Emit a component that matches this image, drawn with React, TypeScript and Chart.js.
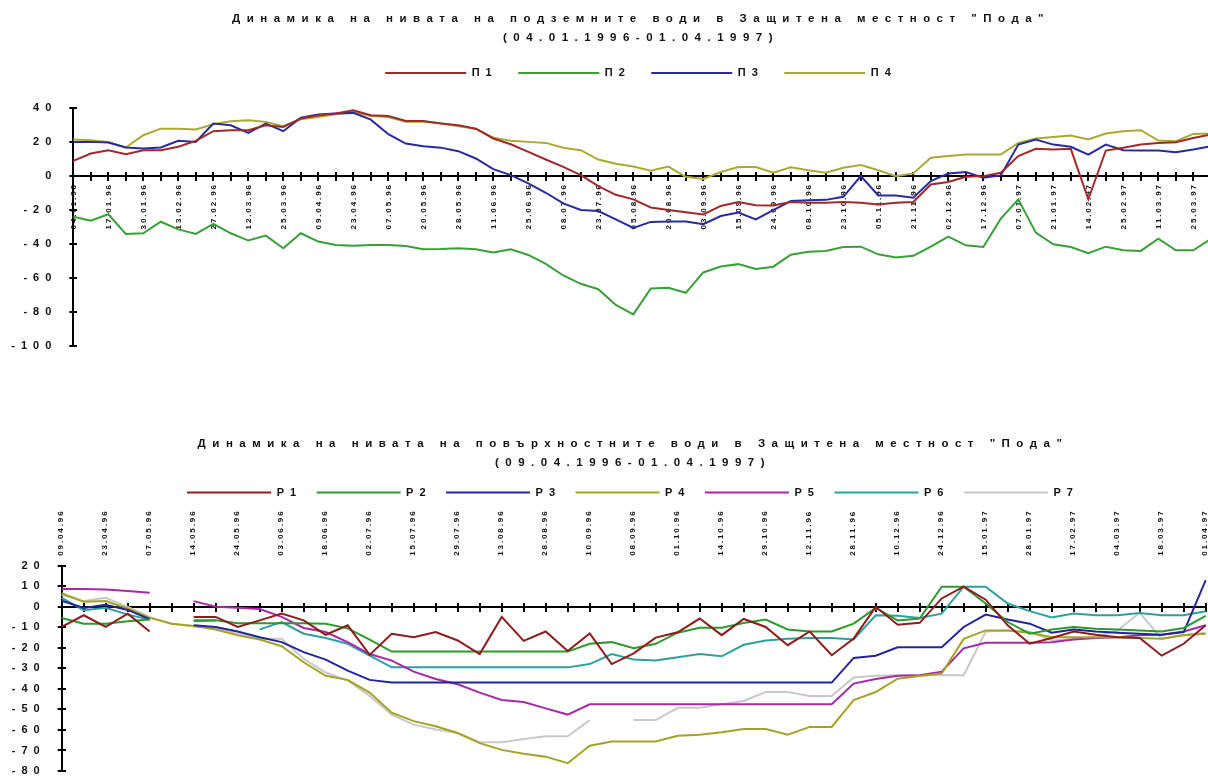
import React, { useEffect, useRef } from 'react';
import { Chart, registerables } from 'chart.js';

Chart.register(...registerables);

const FONT = "'Liberation Sans', Arial, Helvetica, sans-serif";
Chart.defaults.font.family = FONT;
Chart.defaults.color = '#111111';

// ---------------- Top chart: groundwater ----------------
const topTitle = ['Динамика на нивата на подземните води в Защитена местност "Пода"', '(04.01.1996-01.04.1997)'];
const topSeriesNames = ['П1', 'П2', 'П3', 'П4'];
const topColors = ['#A02A2A', '#38A038', '#2A2AA0', '#AAAA32'];
const topTickLabels = [
  '04.01.96', '17.01.96', '30.01.96', '13.02.96', '27.02.96', '12.03.96', '25.03.96', '09.04.96', '23.04.96',
  '07.05.96', '20.05.96', '28.05.96', '11.06.96', '25.06.96', '08.07.96', '23.07.96', '05.08.96', '20.08.96',
  '03.09.96', '15.09.96', '24.09.96', '08.10.96', '23.10.96', '05.11.96', '21.11.96', '02.12.96', '17.12.96',
  '07.01.97', '21.01.97', '14.02.97', '25.02.97', '11.03.97', '25.03.97', '01.04.97',
];
const topP1 = [
  9.0, 13.3, 15.3, 12.9, 15.3, 15.3, 17.3, 20.8, 26.5, 27.1,
  27.1, 30, 29, 34, 35.9, 36.9, 38.8, 35.9, 35.5, 32.5,
  32.5, 31, 30, 28, 22.2, 18.8, 14.3, 9.8, 5.5, 0.6,
  -5.9, -11, -13.7, -18.5, -20, -21.3, -22.6, -17.6, -15.2, -17.2,
  -17.3, -15.2, -15.7, -15.7, -15.3, -15.7, -16.7, -15.7, -15.3, -4.9,
  -3.5, -0.4, 0, 2, 11.8, 16.1, 15.7, 16.1, -13.7, 15.1,
  16.7, 18.6, 19.6, 20, 22.5, 24.5, 25.5,
];
const topP2 = [
  -23.9, -26.3, -22.5, -34.1, -33.7, -26.9, -31.4, -34.1, -28.2, -33.7,
  -38, -35.1, -42.5, -33.7, -38.6, -40.6, -41, -40.6, -40.6, -41.2,
  -43.1, -43, -42.5, -43.1, -45.1, -43.1, -46.5, -51.8, -58.6, -63.5,
  -66.7, -76, -81.5, -66.2, -65.8, -68.8, -56.8, -53.3, -51.9, -54.8,
  -53.4, -46.3, -44.6, -44.1, -41.8, -41.6, -46.1, -48, -47, -41.6,
  -35.7, -40.8, -41.8, -25.1, -13.7, -33.3, -40.2, -41.8, -45.5, -41.6,
  -43.7, -44.1, -36.9, -43.7, -43.7, -37, -35,
];
const topP3 = [
  20.2, 20.2, 19.8, 16.9, 16.3, 16.9, 20.8, 20.2, 31, 30,
  25.5, 31, 26.5, 34.5, 36.3, 36.9, 37.3, 33.3, 24.7, 19.2,
  17.6, 16.8, 14.7, 10.4, 4.1, 0.6, -4.3, -9.8, -16.1, -20,
  -20.6, -25.5, -30.5, -27, -26.7, -26.7, -28.3, -23.5, -21.5, -25.5,
  -20, -14.7, -14.2, -14, -12.2, 0, -11.4, -11.4, -12.7, -2.9,
  1.6, 2.4, -1, 0.4, 18.6, 21.6, 18.6, 17.3, 12.7, 18.6,
  15.3, 15.1, 15.1, 14.1, 15.7, 17.6, 18,
];
const topP4 = [
  21.6, 21.2, 20.2, 16.9, 24.1, 28, 28, 27.5, 30.6, 32.4,
  32.9, 32, 29.4, 33.5, 34.9, 36.5, 37.8, 35.5, 34.9, 32,
  32, 31.2, 29.4, 28, 22.7, 20.8, 20.2, 19.6, 16.7, 15.3,
  9.8, 7.3, 5.7, 3.2, 5.6, -0.4, -1.7, 2.4, 5.4, 5.4,
  2, 5.2, 3.5, 2, 4.9, 6.5, 3.5, 0, 1.6, 10.8,
  11.8, 12.7, 12.7, 12.7, 19.6, 22.2, 23.1, 23.9, 21.6, 25.1,
  26.5, 27.1, 21, 20.6, 24.9, 25.1, 25.5,
];
const topYMin = -100;
const topYMax = 40;
const topYStep = 20;

// ---------------- Bottom chart: surface water ----------------
const bottomTitle = ['Динамика на нивата на повърхностните води в Защитена местност "Пода"', '(09.04.1996-01.04.1997)'];
const bottomSeriesNames = ['Р1', 'Р2', 'Р3', 'Р4', 'Р5', 'Р6', 'Р7'];
const bottomColors = ['#8E1C1C', '#2E9A2E', '#24249C', '#A4A424', '#A62AA6', '#2EA0A0', '#C9C9C9'];
const bottomTickLabels = [
  '09.04.96', '23.04.96', '07.05.96', '14.05.96', '24.05.96', '03.06.96', '18.06.96', '02.07.96', '15.07.96',
  '29.07.96', '13.08.96', '28.08.96', '10.09.96', '08.09.96', '01.10.96', '14.10.96', '29.10.96', '12.11.96',
  '28.11.96', '10.12.96', '24.12.96', '15.01.97', '28.01.97', '17.02.97', '04.03.97', '18.03.97', '01.04.97',
];
const bottomR1 = [
  -9.8, -4.1, -9.8, -3.3, -12, null, -4.9, -4.9, -9.8, -6.6,
  -3.3, -6.6, -13.6, -9, -23.4, -13.1, -14.8, -12.3, -16.4, -23,
  -4.9, -16.6, -12, -21.5, -13, -27.9, -22.7, -15, -12.4, -5.7,
  -13.8, -5.9, -9.8, -18.7, -12, -23.6, -15.4, 0, -8.7, -7.8,
  4.1, 9.8, 3.5, -9, -18, -15.2, -12, -13.6, -14.8, -15.2,
  -23.8, -18, -9,
];
const bottomR2 = [
  -5.4, -8.2, -8.2, -7, -6.2, null, -6.5, -6.5, -8, -8,
  -8, -8, -8.2, -10.5, -16, -21.8, -21.8, -21.8, -21.8, -21.8,
  -21.8, -21.8, -21.8, -21.8, -18, -17.2, -20.2, -18, -12.6, -10.2,
  -10.2, -7.9, -6.2, -11, -12, -12, -8.2, -0.5, -6.6, -5.7,
  9.8, 9.8, 1.6, -7.4, -13.1, -11, -9.8, -10.7, -11.1, -11.5,
  -12, -10.3, -4.4,
];
const bottomR3 = [
  3, -0.5, 1, -1.5, -6, null, -9, -9.8, -12, -14.8,
  -17.2, -22.1, -25.7, -31.1, -35.6, -36.9, -36.9, -36.9, -36.9, -36.9,
  -36.9, -36.9, -36.9, -36.9, -36.9, -36.9, -36.9, -36.9, -36.9, -36.9,
  -36.9, -36.9, -36.9, -36.9, -36.9, -36.9, -24.9, -23.8, -19.7, -19.7,
  -19.7, -9.8, -3.8, -6.2, -8.2, -12.6, -11.1, -12, -12.6, -13.1,
  -13.6, -12.3, 13,
];
const bottomR4 = [
  6.6, 2.5, 2.8, -0.8, -5.4, -8.2, -9.3, -11, -13.9, -15.9,
  -19.2, -27, -33.6, -35.6, -41.8, -51.6, -55.7, -58.2, -61.5, -66.4,
  -69.7, -71.6, -73, -76.2, -67.7, -65.6, -65.6, -65.6, -62.8, -62.3,
  -61.1, -59.5, -59.5, -62.3, -58.5, -58.5, -45.4, -41.5, -35, -33.7,
  -32.5, -15.6, -11.5, -11.5, -12.6, -14.8, -14.8, -14.8, -14.8, -15.2,
  -15.6, -13.9, -13.1,
];
const bottomR5 = [
  8.7, 8.7, 8.5, 7.7, 6.9, null, 2.8, 0, -0.5, -1.1,
  -4.9, -10.3, -12.3, -17.2, -23, -26.2, -31.6, -35.2, -37.7, -41.8,
  -45.4, -46.4, -49.5, -52.5, -47.5, -47.5, -47.5, -47.5, -47.5, -47.5,
  -47.5, -47.5, -47.5, -47.5, -47.5, -47.5, -37.4, -35.2, -33.6, -33.3,
  -31.6, -20.2, -17.5, -17.5, -17.5, -17.2, -15.9, -15.2, -14.8, -13.9,
  -13.6, -12, -9,
];
const bottomR6 = [
  4.4, -1.6, -0.5, -3.8, -6.2, null, -7, -6.6, null, -11,
  -7.4, -13.1, -15.2, -18, -23.8, -29.5, -29.5, -29.5, -29.5, -29.5,
  -29.5, -29.5, -29.5, -29.5, -27.9, -23, -25.7, -26.2, -24.6, -23,
  -24.1, -18.5, -16.4, -15.6, -15.2, -15.2, -15.9, -4.1, -4.4, -5.4,
  -3.3, 9.8, 9.8, 1.6, -2.1, -5.2, -3.3, -4.1, -4.1, -3,
  -4.1, -4.1, -2.1,
];
const bottomR7 = [
  5.7, 2.8, 4.4, 0, -4.9, -8.2, -9.5, -10.3, -13.1, -15.6,
  -15.6, -25.4, -32, -36, -43.4, -52.5, -57.4, -59.8, -61.5, -66,
  -66, -64.4, -63.1, -63.1, -55.2, null, -55.2, -55.2, -49.2, -49.2,
  -47.5, -45.9, -41.5, -41.5, -43.4, -43.4, -34.4, -33.6, -33.3, -33.3,
  -33.3, -33.3, -12, -11.5, -12, -16.4, -15.6, -14.8, -11.5, -2.8,
  -15.6, -13.6, -12.6,
];
const bottomYMin = -80;
const bottomYMax = 20;
const bottomYStep = 10;

// ---------------- helpers ----------------
function makeSpacingPlugin(cfg: any) {
  return {
    id: 'letterSpacingWrap',
    beforeLayout(chart: any) {
      const wrap = (obj: any, name: string, sp: string, after?: (o: any) => void) => {
        if (!obj || typeof obj[name] !== 'function' || obj['__ls_' + name]) return;
        const orig = obj[name];
        obj[name] = function (...a: any[]) {
          const ctx = chart.ctx;
          const prev = ctx.letterSpacing;
          ctx.letterSpacing = sp;
          try {
            const r = orig.apply(this, a);
            if (after) after(this);
            return r;
          } finally {
            ctx.letterSpacing = prev;
          }
        };
        obj['__ls_' + name] = true;
      };
      if (cfg.title) wrap(chart.titleBlock, 'draw', cfg.title);
      if (cfg.legend) {
        wrap(chart.legend, 'fit', cfg.legend, (l: any) => {
          l.height += cfg.legendExtra || 0;
        });
        wrap(chart.legend, 'draw', cfg.legend);
      }
      Object.keys(cfg.scales || {}).forEach((id) => {
        const s = chart.scales[id];
        wrap(s, 'update', cfg.scales[id]);
        wrap(s, 'drawLabels', cfg.scales[id]);
      });
      (cfg.noClip || []).forEach((id: string) => {
        const s = chart.scales[id];
        if (s) s._computeLabelArea = () => undefined;
      });
    },
  };
}

const tickMarkGrid = (len: number) => ({
  display: true,
  drawOnChartArea: false,
  drawTicks: true,
  tickLength: len,
  color: '#000000',
  lineWidth: 2,
});

function lineDatasets(series: any[], names: string[], colors: string[]) {
  return series.map((d, i) => ({
    label: names[i],
    data: d,
    borderColor: colors[i],
    backgroundColor: colors[i],
    pointBorderColor: colors[i],
    pointBackgroundColor: colors[i],
    pointBorderWidth: 2,
    borderWidth: 2,
    pointRadius: 0,
    pointHoverRadius: 0,
    tension: 0,
    fill: false,
    spanGaps: false,
    xAxisID: 'x',
    yAxisID: 'y',
  }));
}

function buildTopConfig(): any {
  const categories = topP1.map((_, i) => (i % 2 === 0 ? topTickLabels[i / 2] : ''));
  return {
    type: 'line',
    data: {
      labels: categories,
      datasets: lineDatasets([topP1, topP2, topP3, topP4], topSeriesNames, topColors),
    },
    options: {
      responsive: false,
      animation: false,
      devicePixelRatio: 1,
      events: [],
      layout: { padding: { left: 53.7, right: 53.7, top: 0, bottom: 54.3 } },
      plugins: {
        tooltip: { enabled: false },
        title: {
          display: true,
          text: topTitle,
          color: '#111111',
          font: { family: FONT, size: 11.5, weight: 'bold', lineHeight: '19px' },
          padding: { top: 9, bottom: 0 },
        },
        legend: {
          display: true,
          position: 'top',
          labels: {
            usePointStyle: true,
            pointStyle: 'line',
            pointStyleWidth: 81,
            padding: 20.5,
            color: '#111111',
            font: { family: FONT, size: 11, weight: 'bold' },
          },
        },
      },
      scales: {
        x: {
          type: 'category',
          position: { y: 0 },
          offset: false,
          grid: tickMarkGrid(4),
          border: { display: true, color: '#000000', width: 2 },
          ticks: {
            autoSkip: false,
            minRotation: 90,
            maxRotation: 90,
            padding: 3,
            color: '#111111',
            font: { family: FONT, size: 8, weight: 'bold' },
          },
        },
        xUp: {
          type: 'category',
          axis: 'x',
          position: { y: 0 },
          offset: false,
          grid: tickMarkGrid(-4),
          border: { display: false },
          ticks: { display: false, autoSkip: false },
        },
        y: {
          type: 'linear',
          position: 'left',
          min: topYMin,
          max: topYMax,
          grid: tickMarkGrid(4),
          border: { display: true, color: '#000000', width: 2 },
          ticks: {
            stepSize: topYStep,
            padding: 12,
            color: '#111111',
            font: { family: FONT, size: 11, weight: 'bold' },
          },
          afterFit: (s: any) => {
            s.width = 19.6;
          },
        },
        yRight: {
          type: 'linear',
          axis: 'y',
          position: { x: 0 },
          min: topYMin,
          max: topYMax,
          grid: tickMarkGrid(-4),
          border: { display: false },
          ticks: { display: false, stepSize: topYStep },
        },
      },
    },
    plugins: [
      makeSpacingPlugin({
        title: '6.5px',
        legend: '6px',
        legendExtra: 19.8,
        scales: { y: '6px', x: '1.9px' },
        noClip: ['y'],
      }),
    ],
  };
}

function buildBottomConfig(): any {
  const categories = bottomR1.map((_, i) => (i % 2 === 0 ? bottomTickLabels[i / 2] : ''));
  return {
    type: 'line',
    data: {
      labels: categories,
      datasets: lineDatasets(
        [bottomR1, bottomR2, bottomR3, bottomR4, bottomR5, bottomR6, bottomR7],
        bottomSeriesNames,
        bottomColors,
      ),
    },
    options: {
      responsive: false,
      animation: false,
      devicePixelRatio: 1,
      events: [],
      layout: { padding: { left: 60.3, right: 60.3, top: 0, bottom: 29 } },
      plugins: {
        tooltip: { enabled: false },
        title: {
          display: true,
          text: bottomTitle,
          color: '#111111',
          font: { family: FONT, size: 11.5, weight: 'bold', lineHeight: '19px' },
          padding: { top: 14.5, bottom: 0 },
        },
        legend: {
          display: true,
          position: 'top',
          labels: {
            usePointStyle: true,
            pointStyle: 'line',
            pointStyleWidth: 84,
            padding: 14.5,
            color: '#111111',
            font: { family: FONT, size: 11, weight: 'bold' },
          },
        },
      },
      scales: {
        x: {
          type: 'category',
          position: 'top',
          offset: false,
          grid: { display: false, drawTicks: false },
          border: { display: false },
          ticks: {
            autoSkip: false,
            minRotation: 90,
            maxRotation: 90,
            padding: 10,
            labelOffset: 9,
            color: '#111111',
            font: { family: FONT, size: 8, weight: 'bold' },
          },
          afterFit: (s: any) => {
            s.height = 57.8;
          },
        },
        xZero: {
          type: 'category',
          axis: 'x',
          position: { y: 0 },
          offset: false,
          grid: tickMarkGrid(4),
          border: { display: true, color: '#000000', width: 2 },
          ticks: { display: false, autoSkip: false },
        },
        xUp: {
          type: 'category',
          axis: 'x',
          position: { y: 0 },
          offset: false,
          grid: tickMarkGrid(-4),
          border: { display: false },
          ticks: { display: false, autoSkip: false },
        },
        y: {
          type: 'linear',
          position: 'left',
          min: bottomYMin,
          max: bottomYMax,
          grid: tickMarkGrid(4),
          border: { display: true, color: '#000000', width: 2 },
          ticks: {
            stepSize: bottomYStep,
            padding: 12,
            color: '#111111',
            font: { family: FONT, size: 11, weight: 'bold' },
          },
          afterFit: (s: any) => {
            s.width = 1.4;
          },
        },
        yRight: {
          type: 'linear',
          axis: 'y',
          position: { x: 0 },
          min: bottomYMin,
          max: bottomYMax,
          grid: tickMarkGrid(-4),
          border: { display: false },
          ticks: { display: false, stepSize: bottomYStep },
        },
      },
    },
    plugins: [
      makeSpacingPlugin({
        title: '6.5px',
        legend: '6px',
        legendExtra: 0,
        scales: { y: '6px', x: '1.9px' },
        noClip: ['y'],
      }),
    ],
  };
}

function ChartCanvas({ make, width, height, top }: { make: () => any; width: number; height: number; top: number }) {
  const ref = useRef<HTMLCanvasElement | null>(null);
  useEffect(() => {
    if (!ref.current) return undefined;
    const chart = new Chart(ref.current, make());
    return () => {
      chart.destroy();
    };
  }, [make]);
  return (
    <canvas
      ref={ref}
      width={width}
      height={height}
      style={{ position: 'absolute', left: 0, top, width, height }}
    />
  );
}

export default function App() {
  return (
    <div
      style={{
        position: 'fixed',
        left: 0,
        top: 0,
        width: 1208,
        height: 776,
        overflow: 'hidden',
        background: '#ffffff',
      }}
    >
      <ChartCanvas make={buildTopConfig} width={1282} height={400} top={0} />
      <ChartCanvas make={buildBottomConfig} width={1266} height={380} top={420} />
    </div>
  );
}
